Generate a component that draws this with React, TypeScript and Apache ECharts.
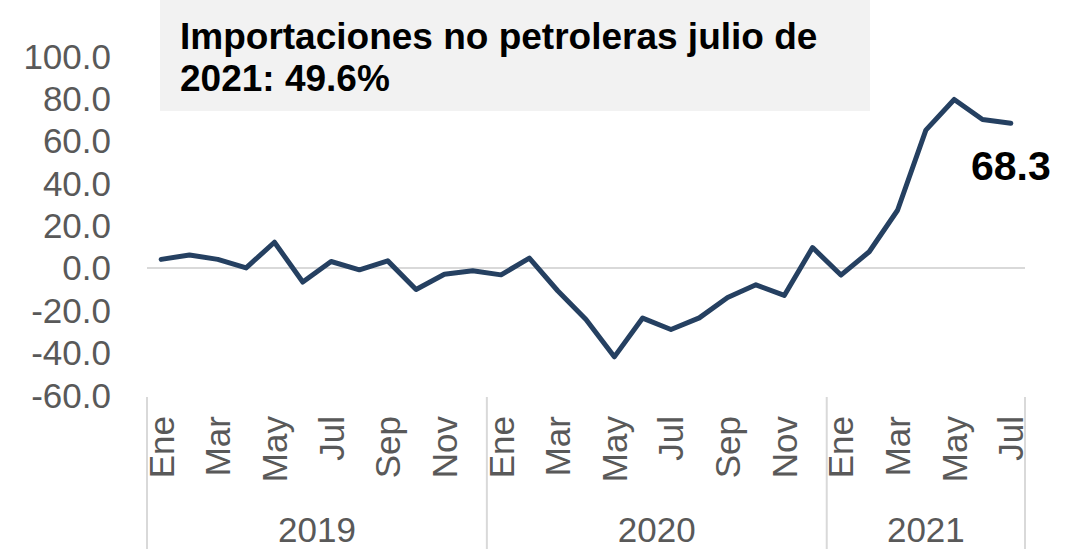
import React, { useEffect, useRef } from "react";
import * as echarts from "echarts";

const months = ["Ene", "Feb", "Mar", "Abr", "May", "Jun", "Jul", "Ago", "Sep", "Oct", "Nov", "Dic"];
const years = ["2019", "2020", "2021"];
const yearCounts = [12, 12, 7];
const values = [
  4.0, 6.1, 4.0, 0.0, 12.1, -6.7, 3.0, -0.9, 3.3, -10.2, -3.0, -1.4,
  -3.3, 4.6, -10.8, -24.4, -42.0, -23.7, -29.1, -23.6, -14.0, -8.0, -13.0, 9.6,
  -3.4, 7.6, 27.2, 65.0, 79.5, 70.0, 68.3,
];
const yTicks = { min: -60, max: 100, interval: 20 };
const titleText = "Importaciones no petroleras julio de\n2021: 49.6%";
const lastLabel = "68.3";

const categories: string[] = [];
yearCounts.forEach((n, yi) => {
  for (let i = 0; i < n; i++) categories.push(months[i] + " " + years[yi]);
});

export default function App() {
  const ref = useRef<HTMLDivElement>(null);
  useEffect(() => {
    if (!ref.current) return;
    const chart = echarts.init(ref.current, undefined, { renderer: "svg" });
    const font = "Liberation Sans, Arial, sans-serif";
    const lineColor = "#254061";
    chart.setOption({
      animation: false,
      grid: { left: 147, right: 46, top: 56, bottom: 154, containLabel: false },
      xAxis: {
        type: "category",
        data: categories,
        boundaryGap: true,
        axisLine: { show: false, onZero: false },
        axisTick: { show: false },
        axisLabel: {
          interval: 1,
          rotate: 90,
          margin: 21,
          color: "#595959",
          fontSize: 35,
          fontFamily: font,
          formatter: (v: string) => v.split(" ")[0],
        },
        splitLine: { show: false },
      },
      yAxis: {
        type: "value",
        min: yTicks.min,
        max: yTicks.max,
        interval: yTicks.interval,
        axisLine: { show: false },
        axisTick: { show: false },
        splitLine: { show: false },
        axisLabel: {
          color: "#595959",
          fontSize: 35,
          fontFamily: font,
          margin: 36,
          formatter: (v: number) => v.toFixed(1),
        },
      },
      series: [
        {
          type: "line",
          data: values.map((v, i) =>
            i === values.length - 1
              ? {
                  value: v,
                  label: {
                    show: true,
                    position: "bottom",
                    distance: 22,
                    formatter: lastLabel,
                    color: "#000",
                    fontWeight: "bold",
                    fontSize: 41,
                    fontFamily: font,
                  },
                }
              : v
          ),
          symbol: "circle",
          symbolSize: 1,
          showSymbol: true,
          itemStyle: { color: lineColor },
          lineStyle: { color: lineColor, width: 5, cap: "round", join: "round" },
          markLine: {
            silent: true,
            symbol: "none",
            label: { show: false },
            lineStyle: { color: "#d9d9d9", width: 2, type: "solid" },
            data: [{ yAxis: 0 }],
            z: 1,
          },
          z: 3,
        },
      ],
    });

    const p0 = chart.convertToPixel({ xAxisIndex: 0 }, 0) as number;
    const p1 = chart.convertToPixel({ xAxisIndex: 0 }, 1) as number;
    const step = p1 - p0;
    const gridBottom = chart.convertToPixel({ yAxisIndex: 0 }, yTicks.min) as number;
    const graphics: any[] = [
      { type: "rect", shape: { x: 160, y: 0, width: 710, height: 111 }, style: { fill: "#f2f2f2" }, z: 0 },
      {
        type: "text",
        x: 180,
        y: 15,
        style: {
          text: titleText,
          fill: "#000",
          font: "bold 37px " + font,
          lineHeight: 42,
        },
        z: 1,
      },
    ];
    let start = 0;
    yearCounts.forEach((n, yi) => {
      const left = p0 - step / 2 + start * step;
      const right = left + n * step;
      graphics.push({
        type: "line",
        shape: { x1: left, y1: gridBottom + 2, x2: left, y2: 549 },
        style: { stroke: "#d9d9d9", lineWidth: 2 },
      });
      if (yi === yearCounts.length - 1) {
        graphics.push({
          type: "line",
          shape: { x1: right, y1: gridBottom + 2, x2: right, y2: 549 },
          style: { stroke: "#d9d9d9", lineWidth: 2 },
        });
      }
      graphics.push({
        type: "text",
        x: (left + right) / 2,
        y: 529,
        style: {
          text: years[yi],
          fill: "#595959",
          font: "35px " + font,
          textAlign: "center",
          textVerticalAlign: "middle",
        },
      });
      start += n;
    });
    chart.setOption({ graphic: graphics });

    return () => chart.dispose();
  }, []);
  return (
    <div
      ref={ref}
      style={{ position: "fixed", left: 0, top: 0, width: 1071, height: 549, background: "#fff" }}
    />
  );
}
